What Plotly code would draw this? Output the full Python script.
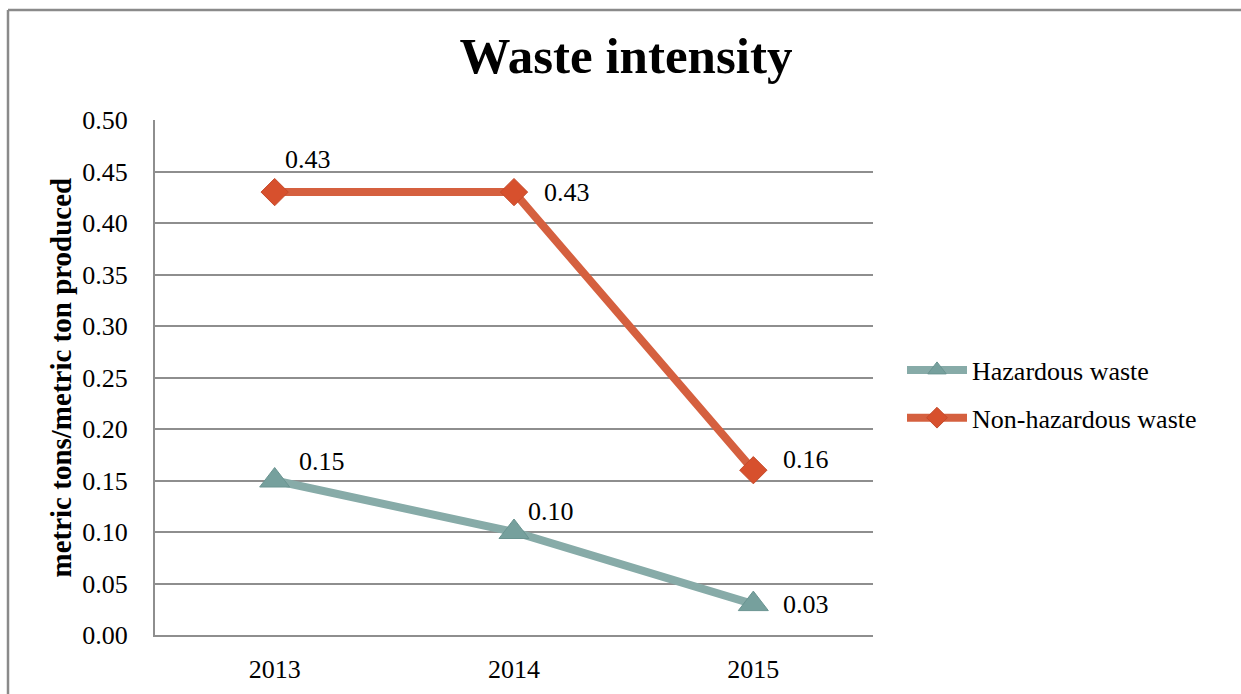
import plotly.graph_objects as go

# Waste intensity, metric tons of waste per metric ton produced
years = ["2013", "2014", "2015"]
hazardous = [0.15, 0.10, 0.03]
non_hazardous = [0.43, 0.43, 0.16]
y_ticks = [0.0, 0.05, 0.10, 0.15, 0.20, 0.25, 0.30, 0.35, 0.40, 0.45, 0.50]

TEAL_LINE = "#87aba8"
TEAL_MARK = "#76a09d"
ORANGE_LINE = "#d5603f"
ORANGE_MARK = "#d7502d"
GRID = "#8e8e8e"
FONT = "Liberation Serif"

W, H = 1241, 694
L, R, T, B = 155, 368, 120, 59
pw, ph = W - L - R, H - T - B


def px_x(p):
    return (p - L) / pw


def px_y(p):
    return (H - B - p) / ph


fig = go.Figure()
fig.add_trace(go.Scatter(
    x=years, y=hazardous, name="Hazardous waste", mode="lines+markers",
    legendgroup="haz",
    line=dict(color=TEAL_LINE, width=8),
    marker=dict(symbol="triangle-up", size=26, color=TEAL_MARK,
                line=dict(color="#6a9491", width=1)),
))
fig.add_trace(go.Scatter(
    x=years, y=non_hazardous, name="Non-hazardous waste", mode="lines+markers",
    legendgroup="nonhaz",
    line=dict(color=ORANGE_LINE, width=8),
    marker=dict(symbol="diamond", size=21, color=ORANGE_MARK,
                line=dict(color="#c44a2b", width=1)),
))

# value labels next to each point (pixel offsets per point);
# category axes take the category index as annotation position
haz_offsets = [(22, 19), (12, 21), (28, 0)]
nonhaz_offsets = [(8, 33), (28, 0), (28, 11)]
annotations = []
for series, offsets in ((hazardous, haz_offsets), (non_hazardous, nonhaz_offsets)):
    for i, (yv, (dx, dy)) in enumerate(zip(series, offsets)):
        annotations.append(dict(
            x=i, y=yv, xref="x", yref="y", text=f"{yv:.2f}", showarrow=False,
            xanchor="left", yanchor="middle", xshift=dx, yshift=dy,
            font=dict(family=FONT, size=26, color="black"),
        ))

# rotated y-axis title
annotations.append(dict(
    x=px_x(60), y=0.5, xref="paper", yref="paper",
    text="<b>metric tons/metric ton produced</b>", textangle=-90,
    showarrow=False, xanchor="center", yanchor="middle",
    font=dict(family=FONT, size=29, color="black"),
))

# frame lines along the top and left of the chart area
shapes = [
    dict(type="line", xref="paper", yref="paper",
         x0=px_x(8), y0=px_y(10), x1=px_x(W + 5), y1=px_y(10),
         line=dict(color="#8a8a8a", width=2.5)),
    dict(type="line", xref="paper", yref="paper",
         x0=px_x(8), y0=px_y(10), x1=px_x(8), y1=px_y(H + 5),
         line=dict(color="#8a8a8a", width=2.5)),
]

fig.update_layout(
    width=W, height=H,
    margin=dict(l=L, r=R, t=T, b=B, autoexpand=False),
    paper_bgcolor="white", plot_bgcolor="white",
    font=dict(family=FONT, color="black"),
    title=dict(text="<b>Waste intensity</b>", x=626 / W, xref="container",
               xanchor="center", y=1 - 55 / H, yref="container", yanchor="middle",
               font=dict(family=FONT, size=51, color="black")),
    showlegend=True,
    legend=dict(x=px_x(902), y=px_y(394), xanchor="left", yanchor="middle",
                font=dict(family=FONT, size=26, color="black"),
                itemwidth=60, tracegroupgap=11, bgcolor="rgba(0,0,0,0)"),
    annotations=annotations,
    shapes=shapes,
)
fig.update_xaxes(
    type="category", range=[-0.5, 2.5], showgrid=False,
    showline=True, linecolor=GRID, linewidth=2, ticks="",
    tickfont=dict(family=FONT, size=26, color="black"),
    ticklabelstandoff=10, zeroline=False,
)
fig.update_yaxes(
    range=[0, 0.5], tickvals=y_ticks, ticktext=[f"{v:.2f}" for v in y_ticks],
    showgrid=True, gridcolor=GRID, gridwidth=1.5,
    showline=True, linecolor=GRID, linewidth=2, ticks="",
    tickfont=dict(family=FONT, size=26, color="black"),
    ticklabelstandoff=20, zeroline=False,
)

fig.write_html("out.html")
